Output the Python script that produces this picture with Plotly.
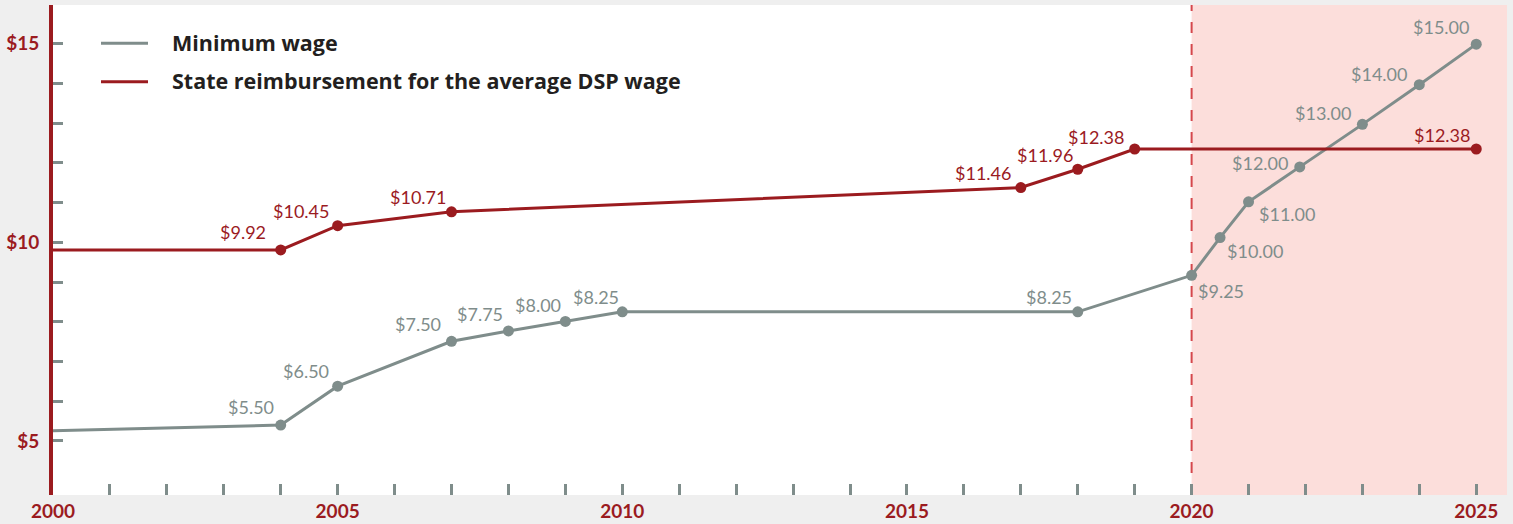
import plotly.graph_objects as go

# ---- data ----
mw_years = [2000, 2004, 2005, 2007, 2008, 2009, 2010, 2018, 2020, 2020.5, 2021, 2021.9, 2023, 2024, 2025]
mw_values = [5.26, 5.40, 6.38, 7.51, 7.77, 8.01, 8.25, 8.25, 9.17, 10.12, 11.02, 11.90, 12.97, 13.97, 14.99]
mw_labels = ["", "$5.50", "$6.50", "$7.50", "$7.75", "$8.00", "$8.25", "$8.25", "$9.25",
             "$10.00", "$11.00", "$12.00", "$13.00", "$14.00", "$15.00"]

dsp_years = [2000, 2004, 2005, 2007, 2017, 2018, 2019, 2025]
dsp_values = [9.81, 9.81, 10.42, 10.77, 11.38, 11.84, 12.35, 12.35]
dsp_labels = ["", "$9.92", "$10.45", "$10.71", "$11.46", "$11.96", "$12.38", "$12.38"]

series_names = ["Minimum wage", "State reimbursement for the average DSP wage"]
y_tick_values = list(range(5, 16))
y_tick_text = ["$5", "", "", "", "", "$10", "", "", "", "", "$15"]
x_tick_values = list(range(2000, 2026))
x_tick_text = [str(y) if y % 5 == 0 else "" for y in x_tick_values]
projection_start = 2020

# ---- style ----
GRAY = "#7f8d8b"
RED = "#9b1b1f"
DASH_RED = "#d5474c"
PINK = "#fcdedb"
BG = "#efefef"
FONT = "Lato"

X_RANGE = [2000, 2025.54]
Y_RANGE = [3.64, 15.975]

# label placement: (xanchor, xshift, yshift)
mw_place = [None,
            ("right", -5, 18), ("right", -7, 15), ("right", -9, 17), ("right", -3, 17),
            ("right", -2, 16), ("right", -1, 15), ("right", -4, 15), ("left", 4, -16),
            ("left", 5, -13), ("left", 8, -12), ("right", -10, 4), ("right", -9, 11),
            ("right", -10, 11), ("right", -5, 17)]
dsp_place = [None,
             ("right", -13, 18), ("right", -7, 15), ("right", -4, 15), ("right", -8, 15),
             ("right", -3, 14), ("right", -9, 12), ("right", -4, 14)]

fig = go.Figure()

fig.add_trace(go.Scatter(
    x=mw_years, y=mw_values, mode="lines+markers", name=series_names[0],
    line=dict(color=GRAY, width=3),
    marker=dict(color=GRAY, size=[0] + [11] * (len(mw_years) - 1), opacity=1, line=dict(width=0)),
    showlegend=False, hoverinfo="skip"))

fig.add_trace(go.Scatter(
    x=dsp_years, y=dsp_values, mode="lines+markers", name=series_names[1],
    line=dict(color=RED, width=3),
    marker=dict(color=RED, size=[0] + [11] * (len(dsp_years) - 1), opacity=1, line=dict(width=0)),
    showlegend=False, hoverinfo="skip"))

annotations = []
for xs, ys, labs, places, col in [(mw_years, mw_values, mw_labels, mw_place, GRAY),
                                   (dsp_years, dsp_values, dsp_labels, dsp_place, RED)]:
    for x, y, t, p in zip(xs, ys, labs, places):
        if not t:
            continue
        xa, xsh, ysh = p
        annotations.append(dict(x=x, y=y, xref="x", yref="y", text=t, showarrow=False,
                                xanchor=xa, yanchor="middle", xshift=xsh, yshift=ysh,
                                font=dict(family=FONT, size=18, color=col)))

# legend (drawn manually)
plot_w = 1513 - 53 - 6
plot_h = 524 - 5 - 29
def px_x(px):
    return (px - 53) / plot_w
def px_y(py):
    return 1 - (py - 5) / plot_h

shapes = [
    dict(type="rect", xref="x", yref="paper", x0=projection_start, x1=X_RANGE[1], y0=0, y1=1,
         fillcolor=PINK, line=dict(width=0), layer="below"),
    dict(type="line", xref="x", yref="paper", x0=projection_start, x1=projection_start, y0=0, y1=1,
         line=dict(color=DASH_RED, width=2, dash="11px,11px"), layer="below"),
]
for name, col, py in [(series_names[0], GRAY, 43.3), (series_names[1], RED, 81.7)]:
    shapes.append(dict(type="line", xref="paper", yref="paper", x0=px_x(101), x1=px_x(148),
                       y0=px_y(py), y1=px_y(py), line=dict(color=col, width=3)))
    annotations.append(dict(x=px_x(170), y=px_y(py - 1), xref="paper", yref="paper", text="<b>%s</b>" % name,
                            showarrow=False, xanchor="left", yanchor="middle",
                            font=dict(family="Open Sans", size=21.5, color="#231f20")))

fig.update_layout(
    width=1513, height=524,
    margin=dict(l=53, r=6, t=5, b=29, pad=0),
    paper_bgcolor=BG, plot_bgcolor="white",
    shapes=shapes, annotations=annotations,
    showlegend=False,
    xaxis=dict(range=X_RANGE, tickvals=x_tick_values, ticktext=x_tick_text,
               ticks="inside", ticklen=11, tickwidth=2.5, tickcolor=GRAY,
               showline=False, showgrid=False, zeroline=False, automargin=False,
               tickfont=dict(family=FONT, size=19, color=RED, weight="bold"),
               ticklabelstandoff=3, fixedrange=True),
    yaxis=dict(range=Y_RANGE, tickvals=y_tick_values, ticktext=y_tick_text,
               ticks="inside", ticklen=10, tickwidth=2.5, tickcolor=GRAY,
               showline=True, linecolor=RED, linewidth=4, mirror=False,
               showgrid=False, zeroline=False, automargin=False,
               tickfont=dict(family=FONT, size=19, color=RED, weight="bold"),
               ticklabelstandoff=6, fixedrange=True),
)

fig.write_html("out.html", config={"displayModeBar": False},
               post_script="document.body.style.margin='0';document.body.style.overflow='hidden';")
